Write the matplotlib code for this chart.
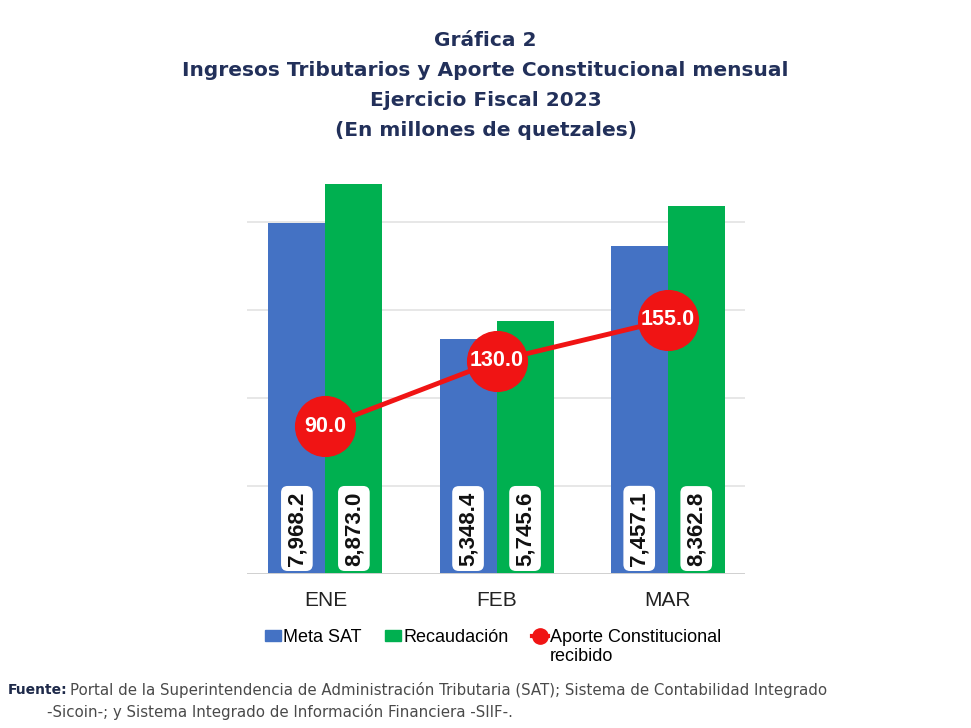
import matplotlib
matplotlib.use("Agg")
import matplotlib.pyplot as plt
from matplotlib.lines import Line2D
from matplotlib.patches import Patch
import numpy as np

meses = ["ENE", "FEB", "MAR"]
meta_sat = [7968.2, 5348.4, 7457.1]
recaudacion = [8873.0, 5745.6, 8362.8]
aporte = [90.0, 130.0, 155.0]

titulo = ["Gráfica 2",
          "Ingresos Tributarios y Aporte Constitucional mensual",
          "Ejercicio Fiscal 2023",
          "(En millones de quetzales)"]

c_azul = "#4472C4"
c_verde = "#00B050"
c_rojo = "#F01414"
c_titulo = "#22305A"

plt.rcParams["font.family"] = ["Liberation Sans", "DejaVu Sans"]

fig = plt.figure(figsize=(9.71, 7.28), dpi=100)
ax = fig.add_axes([0.254, 1 - 574 / 728, 0.513, 418 / 728])

x = np.arange(len(meses))
w = 0.333
b1 = ax.bar(x - w / 2, meta_sat, w, color=c_azul, zorder=2)
b2 = ax.bar(x + w / 2, recaudacion, w, color=c_verde, zorder=2)

ax.set_xlim(-0.46, 2.45)
ax.set_ylim(0, 9500)
for yv in [2000, 4000, 6000, 8000]:
    ax.axhline(yv, color="#E3E3E3", lw=1.2, zorder=1)
ax.axhline(0, color="#D0D0D0", lw=1.4, zorder=3)
for s in ax.spines.values():
    s.set_visible(False)
ax.set_yticks([])
ax.set_xticks(x)
ax.set_xticklabels(meses, fontsize=15, color="#222222")
ax.tick_params(axis="x", length=0, pad=12)

# etiquetas verticales en la base de las barras
for bars, vals in [(b1, meta_sat), (b2, recaudacion)]:
    for r, v in zip(bars, vals):
        ax.annotate(f"{v:,.1f}", (r.get_x() + r.get_width() / 2, 0),
                    xytext=(0, 6), textcoords="offset points",
                    rotation=90, ha="center", va="bottom",
                    fontsize=16, fontweight="bold", color="#111111",
                    bbox=dict(boxstyle="round,pad=0.24,rounding_size=0.3",
                              fc="white", ec="none"), zorder=5)

ax2 = ax.twinx()
ax2.set_ylim(0, 255)
ax2.plot(x, aporte, color=c_rojo, lw=3.5, marker="o", markersize=43,
         markerfacecolor=c_rojo, markeredgecolor=c_rojo, zorder=4)
for xi, v in zip(x, aporte):
    ax2.text(xi, v, f"{v:.1f}", ha="center", va="center", fontsize=15.5,
             fontweight="bold", color="white", zorder=6)
ax2.set_yticks([])
for s in ax2.spines.values():
    s.set_visible(False)

# titulo
ys = [41, 71, 101, 131]
for t, yy in zip(titulo, ys):
    fig.text(0.5, 1 - yy / 728, t, ha="center", va="center", fontsize=14.5,
             fontweight="bold", color=c_titulo, family=["DejaVu Sans"])

handles = [Patch(color=c_azul), Patch(color=c_verde),
           Line2D([0], [0], color=c_rojo, lw=3, marker="o", markersize=11)]
etiquetas = ["Meta SAT", "Recaudación", "Aporte Constitucional"]
leg = fig.legend(handles, etiquetas, loc="upper center",
                 bbox_to_anchor=(0.508, 1 - 622 / 728), ncol=3,
                 frameon=False, fontsize=13, handlelength=0.9,
                 handleheight=0.55, handletextpad=0.1, columnspacing=1.3,
                 borderaxespad=0)

# segunda linea de la tercera etiqueta
fig.canvas.draw()
bb = leg.get_texts()[2].get_window_extent()
fig.text(bb.x0 / fig.bbox.width, (bb.y0 - 2) / fig.bbox.height, "recibido",
         fontsize=13, va="top", ha="left", color="black")

# fuente
fig.text(8 / 971, 1 - 690 / 728, "Fuente:", fontsize=10, fontweight="bold",
         color="#1E2A4A", va="center", family=["DejaVu Sans"])
fig.text(70 / 971, 1 - 690 / 728,
         "Portal de la Superintendencia de Administración Tributaria (SAT); "
         "Sistema de Contabilidad Integrado",
         fontsize=10.8, color="#4A4A4A", va="center",
         family=["DejaVu Sans"])
fig.text(47 / 971, 1 - 712 / 728,
         "-Sicoin-; y Sistema Integrado de Información Financiera -SIIF-.",
         fontsize=10.8, color="#4A4A4A", va="center",
         family=["DejaVu Sans"])

fig.savefig("out.png", dpi=100)
